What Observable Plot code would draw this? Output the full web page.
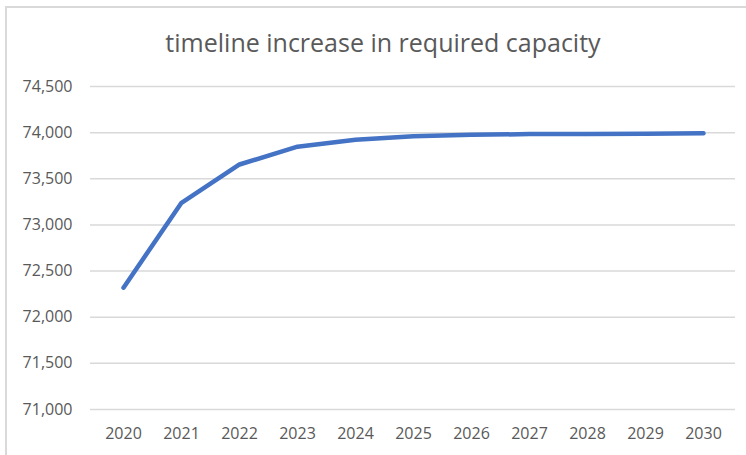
<!DOCTYPE html>
<html>
<head>
<meta charset="utf-8">
<script src="https://cdn.jsdelivr.net/npm/d3@7"></script>
<script src="https://cdn.jsdelivr.net/npm/@observablehq/plot@0.6"></script>
<style>
  html, body { margin: 0; padding: 0; background: #fff; overflow: hidden; }
  #wrap { position: relative; width: 746px; height: 455px; }
  #frame { position: absolute; left: 5px; top: 6px; width: 800px; height: 500px; border: 2px solid #d9d9d9; box-sizing: border-box; }
  #title { position: absolute; left: 0; width: 766px; top: 30px; line-height: 25px; text-align: center; font-family: "Open Sans", sans-serif; font-size: 25px; color: #595959; }
  #chart { position: absolute; left: 0; top: 0; }
</style>
</head>
<body>
<div id="wrap">
  <div id="frame"></div>
  <div id="chart"></div>
  <div id="title">timeline increase in required capacity</div>
</div>
<script>
const years = ["2020","2021","2022","2023","2024","2025","2026","2027","2028","2029","2030"];
const capacity = [72320, 73240, 73655, 73848, 73922, 73962, 73976, 73984, 73986, 73988, 73994];
const yTicks = [71000, 71500, 72000, 72500, 73000, 73500, 74000, 74500];

const data = years.map((year, i) => ({year, value: capacity[i]}));

const chart = Plot.plot({
  width: 746,
  height: 455,
  marginLeft: 90,
  marginRight: 11,
  marginTop: 86,
  marginBottom: 46,
  style: { fontFamily: "Open Sans, sans-serif", fontSize: "16px", color: "#595959", background: "transparent" },
  x: { type: "point", domain: years, padding: 0.5, label: null },
  y: { domain: [71000, 74500], label: null },
  marks: [
    Plot.ruleY(yTicks, { stroke: "#d9d9d9", strokeWidth: 1.5 }),
    Plot.axisY({ ticks: yTicks, tickFormat: d3.format(","), tickSize: 0, tickPadding: 18, label: null, fill: "#595959", fontSize: 16 }),
    Plot.axisX({ tickSize: 0, tickPadding: 18, label: null, fill: "#595959", fontSize: 16 }),
    Plot.lineY(data, { x: "year", y: "value", stroke: "#4472C4", strokeWidth: 4.5, strokeLinecap: "round", strokeLinejoin: "round" })
  ]
});
document.getElementById("chart").appendChild(chart);
</script>
</body>
</html>
